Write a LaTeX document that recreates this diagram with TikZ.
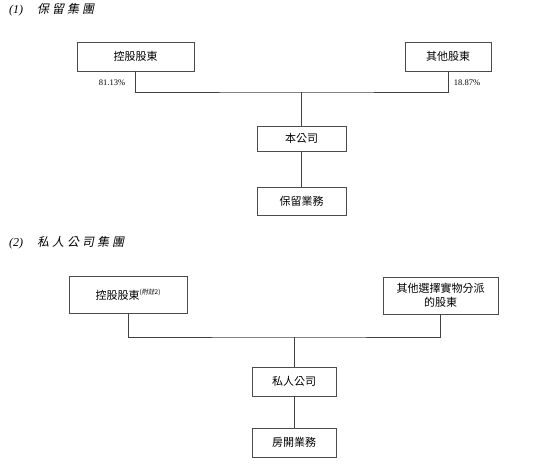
\documentclass[tikz,border=0pt]{standalone}
\usepackage{fontspec}
\setmainfont{Liberation Serif}
\newfontfamily\cjk{Noto Sans CJK TC}
\newfontfamily\cjkit{Noto Sans CJK TC}[FakeSlant=0.2]
\newcommand{\tsp}{\hspace{3pt}}
\begin{document}
\begin{tikzpicture}[x=1pt,y=-1pt,
  box/.style={draw=black!70, fill=white, line width=0.6pt, inner sep=0pt,
    font=\cjk\fontsize{11}{14}\selectfont, align=center},
  link/.style={draw=black!75, line width=0.8pt},
  pct/.style={font=\fontsize{8.5}{10}\selectfont, inner sep=0pt},
  title/.style={anchor=west, inner sep=0pt, font=\fontsize{12}{14}\selectfont}]
\useasboundingbox (0,0) rectangle (554,470);
% titles
\node[title] (t1) at (9,10) {\textit{(1)}\hspace{14pt}{\cjkit 保\tsp 留\tsp 集\tsp 團}};
\node[title] (t2) at (9,243) {\textit{(2)}\hspace{14pt}{\cjkit 私\tsp 人\tsp 公\tsp 司\tsp 集\tsp 團}};
% section 1
\node[box, minimum width=117pt, minimum height=29pt] (ctrl1) at (135.5,56.5) {控股股東};
\node[box, minimum width=86pt, minimum height=29pt] (oth1) at (448,56.5) {其他股東};
\node[box, minimum width=89pt, minimum height=25pt] (co) at (301.5,138.5) {本公司};
\node[box, minimum width=89pt, minimum height=28pt] (ret) at (301.5,201) {保留業務};
\coordinate (j1) at (301.5,92);
\draw[link] (ctrl1.south) |- (j1) -| (oth1.south);
\draw[link] (j1) -- (co.north);
\draw[link] (co.south) -- (ret.north);
\node[pct] (p1) at (112,83) {81.13\%};
\node[pct] (p2) at (467,83) {18.87\%};
% section 2
\node[box, minimum width=118pt, minimum height=37pt] (ctrl2) at (128,294.5) {控股股東\raisebox{0.8ex}{\fontsize{6.5}{7}\selectfont\textit{(}{\cjkit 附註}\textit{2)}}};
\node[box, minimum width=115pt, minimum height=37pt] (oth2) at (440.5,295.5) {其他選擇實物分派\\的股東};
\node[box, minimum width=84pt, minimum height=29pt] (priv) at (294,381.5) {私人公司};
\node[box, minimum width=84pt, minimum height=29pt] (dev) at (294,442.5) {房開業務};
\coordinate (j2) at (294,337);
\draw[link] (ctrl2.south) |- (j2) -| (oth2.south);
\draw[link] (j2) -- (priv.north);
\draw[link] (priv.south) -- (dev.north);
\end{tikzpicture}
\end{document}
